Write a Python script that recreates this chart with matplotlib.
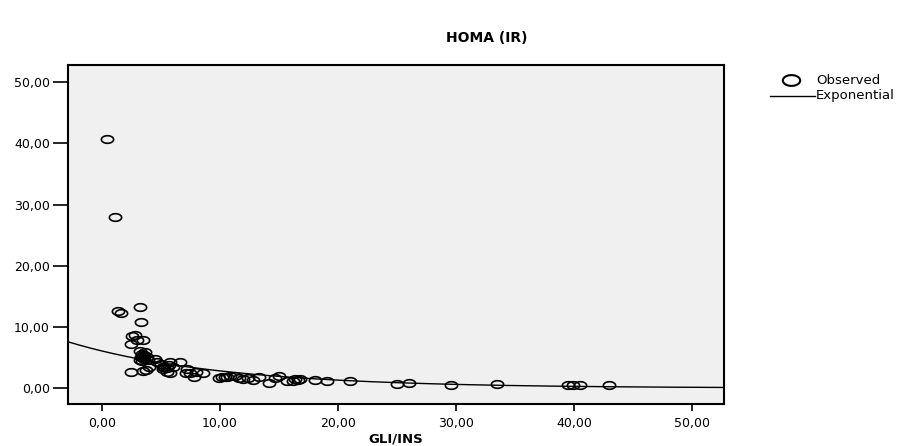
import numpy as np
import matplotlib
matplotlib.use("Agg")
import matplotlib.pyplot as plt
from matplotlib.lines import Line2D
from matplotlib.path import Path

plt.rcParams['font.family'] = ['DejaVu Sans']

# observed points (GLI/INS, HOMA IR)
gli_ins = [0.45, 1.1, 1.35, 1.6, 3.2, 3.3,
           2.6, 2.8, 3.5, 2.45, 3.0,
           3.2, 3.4, 3.5, 3.6, 3.3, 3.7, 3.9, 3.4, 3.6, 3.8, 3.2,
           2.45, 3.5, 3.75, 4.0, 4.5,
           5.0, 5.3, 5.5, 5.7, 5.2, 4.7, 6.0,
           5.8, 6.6, 5.2, 5.5, 7.2, 7.5, 7.1, 7.8, 8.0, 8.6, 5.8,
           9.9, 10.2, 10.6, 10.4, 10.9, 11.3, 11.6, 12.0, 12.4, 12.8, 13.3,
           14.2, 15.0, 14.7, 15.7, 16.2, 16.4, 16.6, 16.8,
           18.1, 19.1, 21.0, 25.0, 26.0, 29.6, 33.5,
           39.5, 39.9, 40.5, 43.0]
homa_ir = [40.7, 27.9, 12.6, 12.3, 13.3, 10.8,
           8.5, 8.7, 7.8, 7.2, 7.9,
           6.1, 5.6, 5.2, 4.8, 5.0, 5.9, 4.6, 4.4, 5.4, 5.0, 4.6,
           2.7, 2.8, 3.0, 3.5, 4.7,
           3.9, 3.5, 3.3, 3.8, 3.2, 4.3, 3.4,
           4.3, 4.3, 3.5, 2.7, 3.2, 2.4, 2.4, 1.8, 2.7, 2.4, 2.4,
           1.6, 1.8, 1.8, 1.8, 1.9, 2.0, 1.6, 1.5, 1.7, 1.3, 1.8,
           0.9, 2.0, 1.6, 1.1, 1.2, 1.5, 1.4, 1.5,
           1.4, 1.1, 1.1, 0.7, 0.8, 0.55, 0.7,
           0.5, 0.5, 0.5, 0.43]

# exponential fit y = a * exp(b * x)
fit_a = 6.07
fit_b = -0.077

xticks = [0, 10, 20, 30, 40, 50]
yticks = [0, 10, 20, 30, 40, 50]

# flattened circle, as in the original
t = np.linspace(0, 2 * np.pi, 60)
ell = Path(np.column_stack([np.cos(t), 0.62 * np.sin(t)]), closed=True)

fig = plt.figure(figsize=(9.05, 4.46), dpi=100)
W, H = 905, 446
ax = fig.add_axes([68 / W, 1 - 404 / H, (724 - 68) / W, (404 - 65) / H])
ax.set_facecolor('#f0f0f0')

ax.plot(gli_ins, homa_ir, linestyle='none', marker=ell, markersize=8.8,
        markerfacecolor='none', markeredgecolor='black', markeredgewidth=1.2)

xs = np.linspace(-2.9, 52.8, 300)
ax.plot(xs, fit_a * np.exp(fit_b * xs), color='black', linewidth=1)

ax.set_xlim(-2.86, 52.7)
ax.set_ylim(-2.6, 52.8)
ax.set_xticks(xticks)
ax.set_yticks(yticks)
ax.set_xticklabels([('%.2f' % v).replace('.', ',') for v in xticks])
ax.set_yticklabels([('%.2f' % v).replace('.', ',') for v in yticks])
ax.tick_params(direction='out', width=1.2, labelsize=9, color='black', pad=2)
ax.tick_params(axis='y', length=11)
ax.tick_params(axis='x', length=5, pad=4)
for s in ax.spines.values():
    s.set_linewidth(1.5)

ax.set_xlabel('GLI/INS', fontsize=9.5, fontweight='bold', labelpad=2)
fig.text(487 / W, 1 - 38 / H, 'HOMA (IR)', ha='center', va='center',
         fontsize=10, fontweight='bold')

# legend drawn by hand on the right
fig.add_artist(Line2D([791 / W], [1 - 80 / H], marker=ell, markersize=12.5,
                      markerfacecolor='none', markeredgecolor='black',
                      markeredgewidth=1.5, transform=fig.transFigure))
fig.text(816 / W, 1 - 80 / H, 'Observed', va='center', fontsize=9.5)
fig.add_artist(Line2D([770 / W, 815 / W], [1 - 96 / H, 1 - 96 / H], color='black',
                      linewidth=1, transform=fig.transFigure))
fig.text(816 / W, 1 - 96 / H, 'Exponential', va='center', fontsize=9.5)

fig.savefig('out.png', dpi=100)
